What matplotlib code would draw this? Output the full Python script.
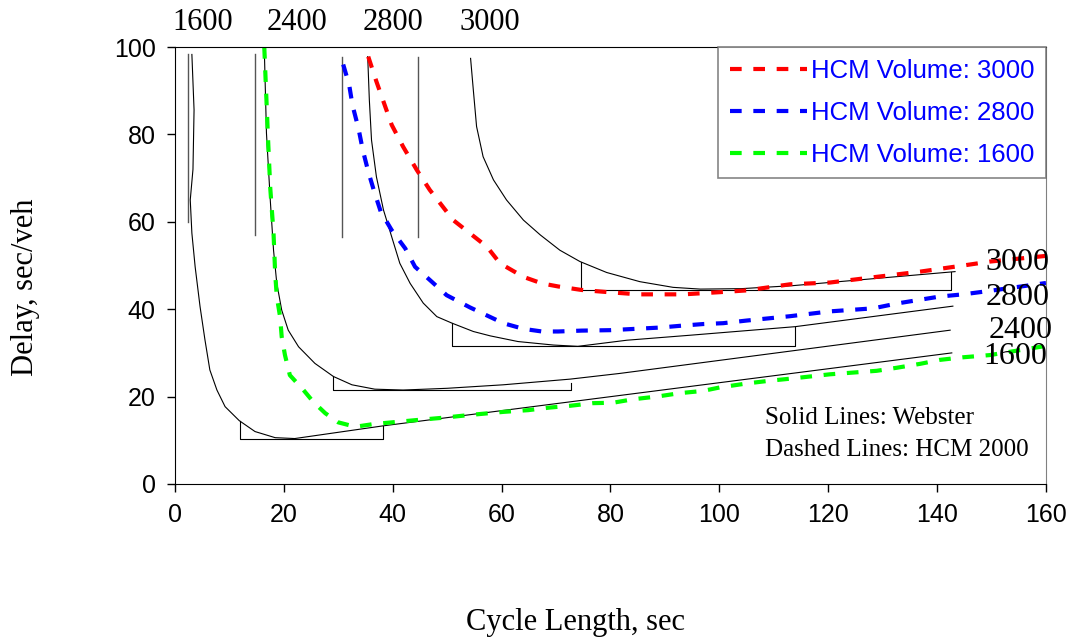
import matplotlib
matplotlib.use("Agg")
import matplotlib.pyplot as plt

# Webster curves (solid black)
w1600_x = [3.1, 3.5, 3.3, 2.8, 3.1, 3.7, 4.6, 5.5, 6.4, 7.7, 9.2, 11.8, 14.7, 18.4, 22.0, 38.2, 70.7, 142.7]
w1600_y = [98.3, 85.6, 72.0, 65.0, 57.4, 49.7, 40.6, 33.0, 26.1, 21.5, 17.7, 14.5, 12.0, 10.6, 10.4, 13.3, 18.5, 30.0]
w2400_x = [16.4, 16.8, 17.5, 18.1, 18.7, 19.6, 20.8, 22.7, 25.7, 29.1, 32.5, 36.7, 41.9, 50.0, 60.3, 72.6, 81.7, 142.4]
w2400_y = [99.7, 80.3, 65.0, 53.5, 45.9, 39.8, 35.2, 31.4, 27.6, 24.6, 22.7, 21.7, 21.5, 21.9, 22.7, 24.0, 25.3, 35.2]
w2800_x = [35.4, 35.7, 36.1, 37.0, 38.3, 39.8, 41.3, 43.2, 45.6, 48.1, 50.9, 54.8, 57.9, 63.0, 69.5, 74.0, 83.0, 95.2, 113.9, 142.9]
w2800_y = [97.8, 87.9, 78.7, 70.3, 62.7, 56.6, 50.5, 45.9, 41.4, 38.3, 36.8, 34.9, 33.9, 32.6, 31.8, 31.5, 32.9, 34.1, 36.0, 40.7]
w3000_x = [54.3, 54.8, 55.4, 56.6, 58.5, 60.9, 64.0, 67.1, 70.7, 74.4, 79.3, 85.4, 91.5, 96.5, 104.0, 113.6, 143.3]
w3000_y = [97.4, 90.2, 81.8, 74.9, 69.6, 65.0, 60.4, 57.0, 53.5, 50.9, 48.4, 46.3, 45.0, 44.6, 44.7, 45.4, 48.6]

# HCM 2000 curves (dashed)
h3000_x = [35.5, 37.0, 38.3, 39.8, 41.9, 44.4, 46.8, 51.1, 57.3, 59.7, 64.0, 67.4, 70.4, 74.7, 79.6,
           85.1, 93.4, 100.1, 105.0, 113.0, 120.3, 128.9, 136.9, 144.8, 149.7, 160.0]
h3000_y = [97.8, 92.1, 87.5, 82.2, 77.2, 71.9, 67.3, 60.4, 54.3, 50.5, 47.4, 45.9, 45.2, 44.4, 43.9,
           43.4, 43.4, 43.9, 44.3, 45.7, 46.1, 47.4, 48.6, 50.0, 50.9, 52.2]
h2800_x = [30.9, 32.0, 32.6, 33.7, 34.5, 35.5, 36.6, 37.8, 39.8, 42.3, 44.1, 46.8, 49.9, 54.2, 60.3,
           64.0, 67.4, 70.4, 74.7, 79.9, 84.5, 89.1, 92.8, 97.0, 100.7, 105.0, 109.0, 113.0, 120.3,
           128.3, 132.6, 140.5, 144.8, 149.7, 160.0]
h2800_y = [96.0, 91.3, 86.7, 81.4, 76.4, 71.5, 66.9, 62.3, 58.1, 53.9, 49.7, 46.7, 43.2, 40.4, 36.8,
           35.5, 34.9, 34.9, 35.1, 35.2, 35.5, 35.8, 36.2, 36.6, 36.8, 37.4, 37.9, 38.4, 39.5,
           40.2, 41.3, 42.9, 43.4, 44.2, 46.0]
h1600_x = [16.4, 17.1, 17.5, 18.1, 18.4, 18.7, 19.3, 19.6, 20.2, 21.1, 23.6, 25.4, 27.6, 30.0, 33.1,
           36.4, 39.8, 44.1, 49.6, 54.2, 60.3, 64.9, 68.9, 72.6, 76.8, 80.5, 84.2, 88.5, 92.8, 97.0,
           100.1, 105.0, 109.0, 113.0, 120.3, 128.9, 132.6, 136.9, 140.5, 144.8, 149.7, 160.0]
h1600_y = [100.0, 78.7, 67.7, 57.4, 48.2, 42.9, 38.3, 33.7, 29.5, 24.9, 21.5, 18.8, 16.2, 14.1, 13.1,
           13.7, 14.1, 14.6, 15.2, 15.8, 16.5, 16.9, 17.5, 17.9, 18.5, 18.6, 19.4, 20.0, 20.8, 21.3,
           22.1, 23.0, 23.6, 24.1, 25.1, 25.9, 26.6, 27.5, 28.4, 29.0, 29.5, 31.6]

# optimum-range brackets: left x, right x, bottom y, left top, right top
br_left = [11.9, 29.1, 50.9, 74.5]
br_right = [38.2, 72.8, 113.9, 142.5]
br_bottom = [10.3, 21.4, 31.5, 44.4]
br_ltop = [14.5, 24.6, 36.9, 50.9]
br_rtop = [13.3, 23.2, 36.0, 48.6]

# vertical marker lines
vl_x = [2.4, 14.7, 30.6, 44.6]
vl_ymin = [60.0, 57.0, 56.5, 56.5]
vl_ymax = [98.3, 98.3, 97.8, 97.7]

volumes = ["1600", "2400", "2800", "3000"]
top_label_x = [5.0, 22.4, 40.0, 57.9]
right_label_x = [154.3, 155.4, 154.8, 154.8]
right_label_y = [29.1, 35.2, 42.6, 50.8]

serif = ["Liberation Serif", "DejaVu Serif"]
sans = ["Liberation Sans", "DejaVu Sans"]

fig = plt.figure(figsize=(10.73, 6.37), dpi=100)
ax = fig.add_axes([0.1631, 0.2402, 0.8117, 0.6860])

for i in range(4):
    ax.plot([br_left[i], br_left[i], br_right[i], br_right[i]],
            [br_ltop[i], br_bottom[i], br_bottom[i], br_rtop[i]], color="black", lw=0.8)
for i in range(4):
    ax.plot([vl_x[i], vl_x[i]], [vl_ymin[i], vl_ymax[i]], color="#555555", lw=1.0)

for xs, ys in [(w1600_x, w1600_y), (w2400_x, w2400_y), (w2800_x, w2800_y), (w3000_x, w3000_y)]:
    ax.plot(xs, ys, color="black", lw=0.8)

dash = (2.8, 2.8)
ax.plot(h3000_x, h3000_y, color="#ff0000", lw=3, dashes=dash, label="HCM Volume: 3000")
ax.plot(h2800_x, h2800_y, color="#0000ff", lw=3, dashes=dash, label="HCM Volume: 2800")
ax.plot(h1600_x, h1600_y, color="#00ff00", lw=3, dashes=dash, label="HCM Volume: 1600")

ax.set_xlim(0, 160)
ax.set_ylim(0, 100)
ax.set_xticks(range(0, 161, 20))
ax.set_yticks(range(0, 101, 20))
for lab in ax.get_xticklabels() + ax.get_yticklabels():
    lab.set_family(sans)
    lab.set_fontsize(18)
ax.tick_params(direction="out", length=6, width=1, pad=8)
ax.spines["right"].set_color("#808080")

ax.set_xlabel("Cycle Length, sec", family=serif, fontsize=22, va="center")
ax.xaxis.set_label_coords(0.46, -0.316)
ax.set_ylabel("Delay, sec/veh", family=serif, fontsize=22, va="center")
ax.yaxis.set_label_coords(-0.172, 0.45)

for i, v in enumerate(volumes):
    ax.text(top_label_x[i], 1.056, v, transform=ax.get_xaxis_transform(), ha="center", va="center",
            family=serif, fontsize=22, clip_on=False)
    ax.text(right_label_x[i], right_label_y[i], v, ha="center", va="center",
            family=serif, fontsize=23, clip_on=False)

ax.text(108.4, 15.1, "Solid Lines: Webster", ha="left", va="center", family=serif, fontsize=18)
ax.text(108.4, 7.8, "Dashed Lines: HCM 2000", ha="left", va="center", family=serif, fontsize=18)

leg = ax.legend(loc="upper right", borderaxespad=0, fancybox=False, handlelength=3.0,
                handletextpad=0.15, labelspacing=0.7, borderpad=0.45,
                prop={"family": sans, "size": 18.5})
leg.get_frame().set_edgecolor("#666666")
leg.get_frame().set_linewidth(1.2)
for t in leg.get_texts():
    t.set_color("#0000ff")

fig.savefig("out.png", dpi=100)
